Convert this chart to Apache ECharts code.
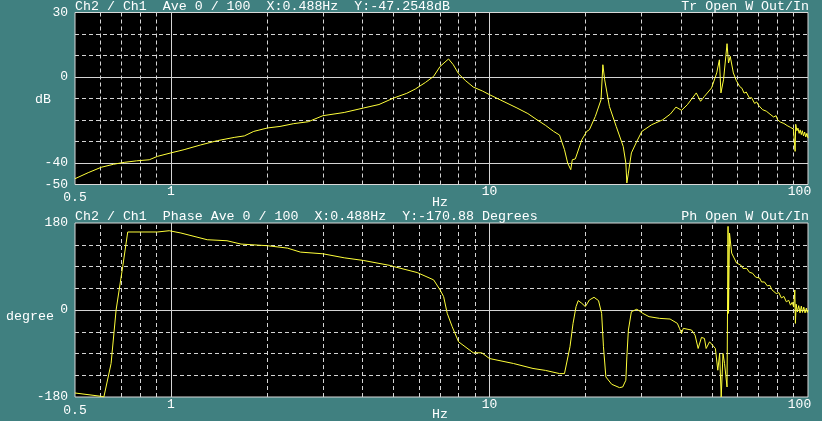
<!DOCTYPE html>
<html><head><meta charset="utf-8">
<script src="https://cdn.jsdelivr.net/npm/echarts@6/dist/echarts.min.js"></script>
<style>html,body{margin:0;padding:0;background:#408080}#c{width:822px;height:421px}</style>
</head><body><div id="c"></div>
<script>
const magFreq = [0.5,0.55,0.604,0.66,0.714,0.78,0.855,0.908,1.0,1.1,1.24,1.40,1.58,1.7,1.82,2.01,2.2,2.43,2.7,3.0,3.5,4.03,4.5,5.0,5.5,5.85,6.3,6.68,7.0,7.44,7.7,8.0,8.4,8.9,9.5,10,10.8,12.2,13.2,14.1,15.0,15.9,16.6,17.2,17.6,18.0,18.2,18.6,19.5,20.2,20.6,21.5,22.4,22.7,23.0,23.8,25.0,26.3,26.8,27.0,27.3,27.9,29.0,30.1,32.3,35.0,37.0,38.5,40.1,41.8,44.6,45.2,46.0,47.3,49.8,51.7,52.7,53.3,54.3,55.7,56.3,57.0,58.3,59.5,61.0,62.0,63.0,64.0,65.5,66.5,68.0,69.0,70.0,71.0,72.0,73.0,74.0,75.0,76.0,77.0,78.0,79.4,80.2,81.0,82.0,83.0,84.0,85.0,86.0,87.2,88.0,89.0,90.0,90.7,91.1,91.5,92.3,93.0,93.8,94.5,95.3,96.0,96.8,97.6,98.4,99.2,100];
const magDb = [-47.3,-44.5,-42.0,-40.6,-39.7,-39.0,-38.5,-36.9,-35.3,-33.8,-31.6,-29.6,-28.1,-27.4,-25.3,-23.7,-23.0,-21.7,-20.8,-18.0,-16.5,-14.4,-12.8,-9.8,-7.6,-5.6,-2.5,0.3,4.9,8.4,5.7,1.5,-1.6,-4.7,-6.5,-8.2,-10.6,-14.4,-17.0,-19.9,-22.5,-25.3,-27.0,-33.8,-40.0,-43.1,-38.5,-38.1,-29.2,-25.3,-24.5,-18.3,-10.6,5.7,-1.3,-13.7,-23.0,-32.3,-40.0,-49.3,-44.7,-35.3,-30.0,-25.3,-22.2,-19.9,-17.2,-14.0,-15.5,-12.9,-7.4,-6.7,-11.3,-9.0,-5.1,1.9,8.0,-7.4,-1.3,15.5,6.5,9.6,1.9,-1.5,-4.4,-5.2,-7.5,-7.0,-9.8,-9.6,-12.3,-11.6,-13.2,-13.0,-15.2,-14.4,-15.9,-15.8,-17.3,-16.9,-18.6,-18.0,-19.8,-19.0,-21.0,-20.2,-21.6,-20.8,-22.6,-21.8,-23.4,-22.6,-24.2,-23.5,-34.6,-22.0,-25.0,-23.8,-26.2,-24.6,-26.8,-25.0,-27.4,-25.6,-27.9,-26.2,-28.4];
const phaseFreq = [0.5,0.604,0.616,0.649,0.673,0.706,0.732,0.908,0.988,1.075,1.30,1.50,1.66,2.01,2.32,2.55,3.0,3.5,4.03,4.89,5.0,5.93,6.68,7.0,7.18,7.37,7.64,8.0,8.9,9.46,10,11.9,13.7,15,16.6,17.2,17.4,17.9,18.3,18.7,19.0,19.5,20.0,20.6,21.3,22.0,22.5,22.8,23.2,24.2,25.6,26.2,26.8,27.0,27.3,27.9,29.0,29.5,30.3,31.7,34.2,36.9,38.9,39.5,40.1,40.6,43.1,44.2,45.2,46.3,47.3,47.9,49.1,51.2,52.1,52.8,53.4,54.1,54.7,55.7,56.1,56.3,56.7,57.2,57.6,59.7,61.5,62.5,64.2,65.5,67,68.5,70.5,71.5,73,74.5,75.9,77,78,79.5,81,82.5,84,85.5,87,88.1,89.2,90.2,90.9,91.3,91.8,92.6,93.5,94.4,95.3,96.1,97,97.9,98.8,99.5,100];
const phaseDeg = [-171.7,-178.6,-180,-110.7,0,90,161.4,161.4,164,159.3,145.4,143.3,136.4,133,128.1,119.8,116.3,108,102.4,92,90,77.5,62.3,41.5,27.7,-7,-34.6,-65.8,-88.6,-88.6,-100.4,-110.7,-121,-125,-131.6,-131.6,-128,-76,-27.7,7,19.4,13.8,7,20.8,26.3,19.4,-7,-76,-138.5,-153.7,-160.6,-159.3,-145.4,-97,-41.5,-3.5,1.5,-1.5,-7,-13.8,-17.3,-18.7,-27.7,-38,-48.4,-38,-41.5,-52,-79.6,-56.7,-58.8,-79.6,-65.8,-79.6,-124.6,-90,-180,-90,-110.7,-159.3,173,-7,159.3,159.3,117.7,97,93,86,86,78,76,68,66,58,58,50,51,42,44,34,36,25,28,17,20,10,16,6,41.5,-27.7,12,-4,9,-6,8,-5,6,-6,4,-5,0];
const xTickLabels = ['0.5','1','10','100'];
const magTickLabels = [30,0,-40,-50];
const phaseTickLabels = [180,0,-180];
const vGridDashed = [0.6,0.7,0.8,0.9,2,3,4,5,6,7,8,9,20,30,40,50,60,70,80,90];
const vGridSolid = [1,10];
const magGridDashed = [20,10,-10,-20,-30];
const magGridSolid = [0,-40];
const phaseGridDashed = [135,90,45,-45,-90,-135];
const phaseGridSolid = [0];

const FONT = '"Liberation Mono", "DejaVu Sans Mono", monospace';
const GRID_C = '#d4d4d4';
const LINE_C = '#ffff3a';
const zip = (a, b) => a.map((v, i) => [v, b[i]]);

function gridLines(hDashed, hSolid) {
  const dashed = {color: GRID_C, width: 1, type: [4, 3]};
  const solid = {color: GRID_C, width: 1, type: 'solid'};
  return []
    .concat(vGridDashed.map(v => ({xAxis: v, lineStyle: dashed})))
    .concat(vGridSolid.map(v => ({xAxis: v, lineStyle: solid})))
    .concat(hDashed.map(v => ({yAxis: v, lineStyle: dashed})))
    .concat(hSolid.map(v => ({yAxis: v, lineStyle: solid})));
}

function xAxisCfg(idx) {
  return {
    type: 'log', logBase: 10, min: 0.5, max: 100, gridIndex: idx,
    axisLine: {show: false}, axisTick: {show: false}, splitLine: {show: false},
    axisLabel: {
      color: '#ffffff', fontFamily: FONT, fontSize: 13, margin: 1,
      showMinLabel: true, showMaxLabel: true,
      formatter: v => {
        const r = Math.round(v * 10) / 10;
        const s = String(r);
        if (s === xTickLabels[0]) return '{lo|' + s + '}';
        if (s === xTickLabels[3]) return '{hi|' + s + '}';
        return xTickLabels.includes(s) ? s : '';
      },
      rich: {
        lo: {color: '#ffffff', fontFamily: FONT, fontSize: 13, padding: [6, 0, 0, 0]},
        hi: {color: '#ffffff', fontFamily: FONT, fontSize: 13, padding: [0, 17, 0, 0]}
      }
    }
  };
}

function yAxisCfg(idx, min, max, interval, labels) {
  return {
    type: 'value', gridIndex: idx, min: min, max: max, interval: interval,
    axisLine: {show: false}, axisTick: {show: false}, splitLine: {show: false},
    axisLabel: {
      color: '#ffffff', fontFamily: FONT, fontSize: 13, margin: 7,
      showMinLabel: true, showMaxLabel: true,
      formatter: v => labels.includes(v) ? String(v) : ''
    }
  };
}

const txt = (x, y, text, align) => ({
  type: 'text', x: x, y: y, silent: true,
  style: {text: text, fill: '#ffffff', font: '13.3px ' + FONT, textAlign: align || 'left', textVerticalAlign: 'middle'}
});

const option = {
  backgroundColor: '#408080',
  animation: false,
  grid: [
    {left: 75, top: 12.5, width: 733, height: 172, show: true, backgroundColor: '#000000', borderColor: '#d8d8d8', borderWidth: 1},
    {left: 75, top: 223, width: 733, height: 174, show: true, backgroundColor: '#000000', borderColor: '#d8d8d8', borderWidth: 1}
  ],
  xAxis: [xAxisCfg(0), xAxisCfg(1)],
  yAxis: [yAxisCfg(0, -50, 30, 10, magTickLabels), yAxisCfg(1, -180, 180, 45, phaseTickLabels)],
  graphic: [
    txt(75, 6, 'Ch2 / Ch1  Ave 0 / 100  X:0.488Hz  Y:-47.2548dB'),
    txt(809, 6, 'Tr Open W Out/In', 'right'),
    txt(75, 216.5, 'Ch2 / Ch1  Phase Ave 0 / 100  X:0.488Hz  Y:-170.88 Degrees'),
    txt(809, 216.5, 'Ph Open W Out/In', 'right'),
    txt(43, 99, 'dB', 'center'),
    txt(30, 316, 'degree', 'center'),
    txt(440, 202, 'Hz', 'center'),
    txt(440, 414, 'Hz', 'center')
  ],
  series: [
    {type: 'line', xAxisIndex: 0, yAxisIndex: 0, data: [], z: 1, silent: true,
     markLine: {silent: true, symbol: ['none', 'none'], label: {show: false}, animation: false, data: gridLines(magGridDashed, magGridSolid)}},
    {type: 'line', xAxisIndex: 1, yAxisIndex: 1, data: [], z: 1, silent: true,
     markLine: {silent: true, symbol: ['none', 'none'], label: {show: false}, animation: false, data: gridLines(phaseGridDashed, phaseGridSolid)}},
    {type: 'line', xAxisIndex: 0, yAxisIndex: 0, data: zip(magFreq, magDb), z: 5, showSymbol: false,
     lineStyle: {color: LINE_C, width: 1}, itemStyle: {color: LINE_C}},
    {type: 'line', xAxisIndex: 1, yAxisIndex: 1, data: zip(phaseFreq, phaseDeg), z: 5, showSymbol: false,
     lineStyle: {color: LINE_C, width: 1}, itemStyle: {color: LINE_C}}
  ]
};
const chart = echarts.init(document.getElementById('c'), null, {renderer: 'canvas'});
chart.setOption(option);
</script>
</body></html>
